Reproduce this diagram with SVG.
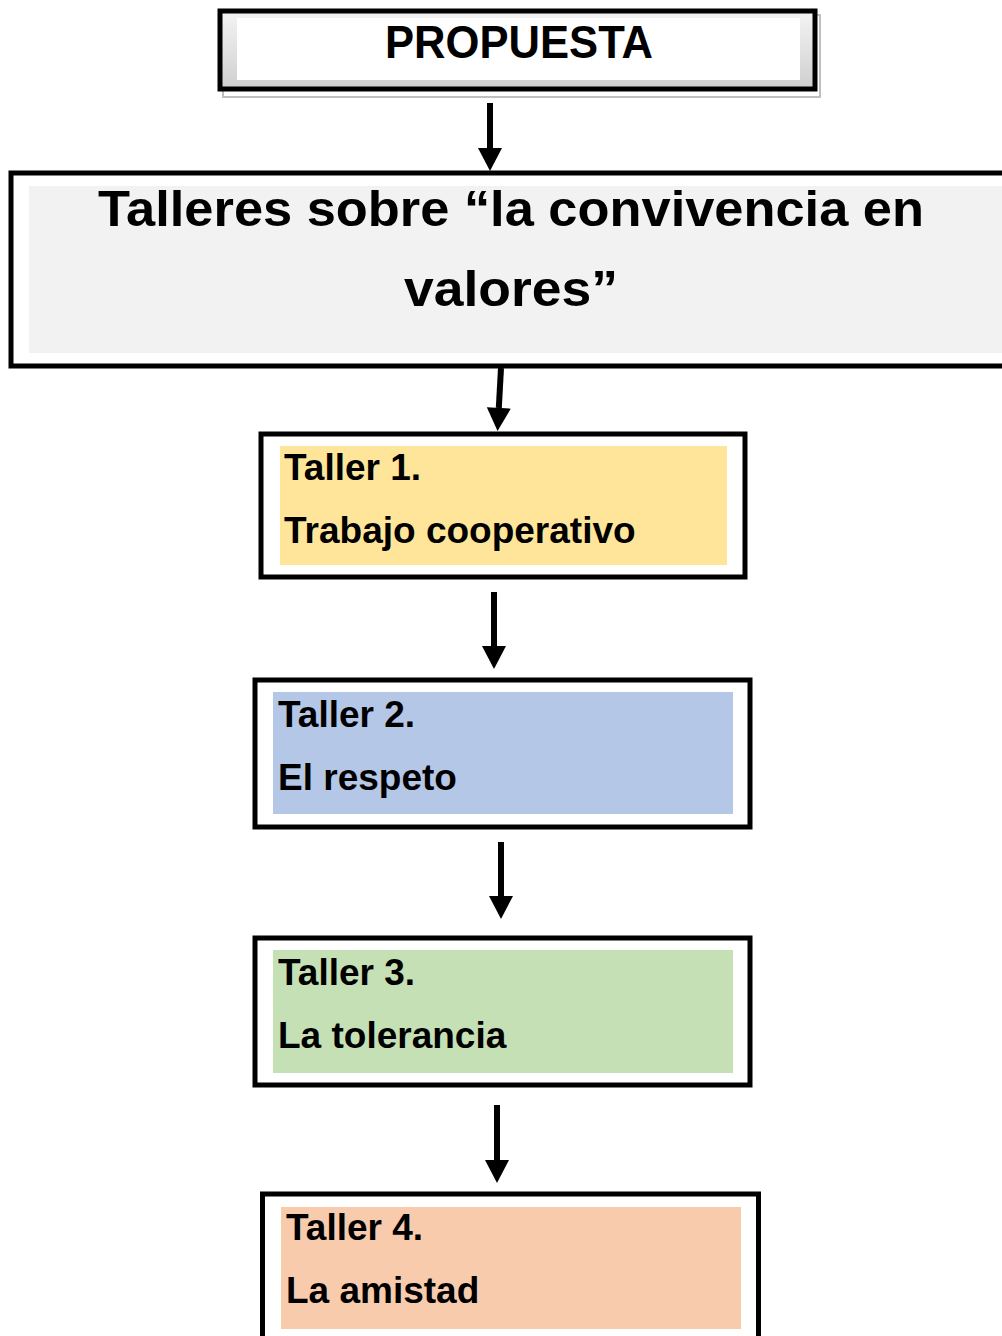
<svg xmlns="http://www.w3.org/2000/svg" width="1002" height="1336" viewBox="0 0 1002 1336">
<defs>
<linearGradient id="bevel" x1="0" y1="0" x2="0" y2="1">
<stop offset="0" stop-color="#f4f4f4"/>
<stop offset="1" stop-color="#cfcfcf"/>
</linearGradient>
<marker id="ah" markerUnits="userSpaceOnUse" markerWidth="24" markerHeight="26" refX="0" refY="12" orient="auto" overflow="visible">
<path d="M0,0 L23,12 L0,24 z" fill="#000"/>
</marker>
<style>
.box{fill:#fff;stroke:#000;stroke-width:5}
.conn{stroke:#000;stroke-width:6;fill:none;marker-end:url(#ah)}
.tl{font-family:"Liberation Sans",Arial,sans-serif;font-weight:bold;font-size:37px;fill:#000}
.hd{font-family:"Liberation Sans",Arial,sans-serif;font-weight:bold;fill:#000;text-anchor:middle}
</style>
</defs>
<rect width="1002" height="1336" fill="#fff"/>

<g id="propuesta">
<rect x="223" y="15" width="597" height="82" fill="none" stroke="#bfbfbf" stroke-width="2"/>
<rect x="220" y="11" width="595" height="78" fill="url(#bevel)" stroke="#000" stroke-width="5"/>
<rect x="237" y="18" width="563" height="62" fill="#fff"/>
<text class="hd" x="519" y="58" font-size="46" textLength="268" lengthAdjust="spacingAndGlyphs">PROPUESTA</text>
</g>

<g id="talleres">
<rect x="11" y="173" width="1000" height="193" class="box"/>
<rect x="29" y="186" width="973" height="167" fill="#f2f2f2"/>
<text class="hd" x="511" y="226" font-size="50" textLength="826" lengthAdjust="spacingAndGlyphs">Talleres sobre “la convivencia en</text>
<text class="hd" x="511" y="306" font-size="50" textLength="214" lengthAdjust="spacingAndGlyphs">valores”</text>
</g>

<g id="taller1">
<rect x="261" y="434" width="484" height="143" class="box"/>
<rect x="280" y="446" width="447" height="119" fill="#ffe599"/>
<text class="tl" x="284" y="480">Taller 1.</text>
<text class="tl" x="284" y="543">Trabajo cooperativo</text>
</g>

<g id="taller2">
<rect x="255" y="680" width="495" height="147" class="box"/>
<rect x="273" y="692" width="460" height="122" fill="#b4c7e7"/>
<text class="tl" x="278" y="727">Taller 2.</text>
<text class="tl" x="278" y="790">El respeto</text>
</g>

<g id="taller3">
<rect x="255" y="938" width="495" height="147" class="box"/>
<rect x="273" y="950" width="460" height="123" fill="#c5e0b4"/>
<text class="tl" x="278" y="985">Taller 3.</text>
<text class="tl" x="278" y="1048">La tolerancia</text>
</g>

<g id="taller4">
<rect x="262.5" y="1194" width="496" height="160" class="box"/>
<rect x="281" y="1207" width="460" height="122" fill="#f8cbad"/>
<text class="tl" x="286" y="1240">Taller 4.</text>
<text class="tl" x="286" y="1303">La amistad</text>
</g>

<g id="connectors">
<line class="conn" x1="490" y1="103" x2="490" y2="148"/>
<line class="conn" x1="501" y1="368" x2="498.8" y2="408"/>
<line class="conn" x1="494" y1="592" x2="494" y2="646"/>
<line class="conn" x1="501" y1="842" x2="501" y2="896"/>
<line class="conn" x1="497" y1="1105" x2="497" y2="1160"/>
</g>
</svg>
